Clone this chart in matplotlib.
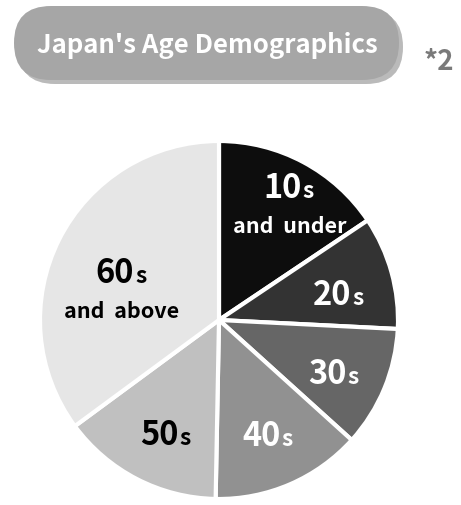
import numpy as np
import matplotlib
matplotlib.use("Agg")
import matplotlib.pyplot as plt
from matplotlib.patches import FancyBboxPatch

# data (share of population, %)
groups = ["10", "20", "30", "40", "50", "60"]
subtexts = ["and  under", "", "", "", "", "and  above"]
shares = [15.6, 10.2, 10.9, 13.6, 14.6, 35.1]
colors = ["#0d0d0d", "#333333", "#666666", "#919191", "#c0c0c0", "#e6e6e6"]
text_colors = ["white", "white", "white", "white", "black", "black"]
label_r = [0.75, 0.69, 0.71, 0.70, 0.70, 0.565]
label_ang_shift = [3.8, 3.3, 2.1, 0.2, -2.7, -10.4]   # degrees, clockwise

title = "Japan's Age Demographics"
note = "*2"

plt.rcParams['font.family'] = ['Noto Sans CJK JP', 'DejaVu Sans']

W, H = 461, 505
fig = plt.figure(figsize=(W / 100, H / 100), dpi=100)

# overlay axes in pixel coordinates for the title pill
bg = fig.add_axes([0, 0, 1, 1])
bg.set_xlim(0, W)
bg.set_ylim(H, 0)
bg.axis("off")

shadow = FancyBboxPatch((18, 10), 385, 74, boxstyle="round,pad=0,rounding_size=37",
                        fc="#8c8c8c", ec="none", alpha=0.6)
pill = FancyBboxPatch((14, 6), 385, 74, boxstyle="round,pad=0,rounding_size=37",
                      fc="#a6a6a6", ec="none")
bg.add_patch(shadow)
bg.add_patch(pill)
bg.text(207, 53, title, ha="center", va="baseline", color="white",
        fontsize=18.5, fontweight="bold")
bg.text(439, 70, note, ha="center", va="baseline", color="#7a7a7a",
        fontsize=20, fontweight="bold")

# pie
ax = fig.add_axes([40 / W, 1 - 499 / H, 358 / W, 358 / H])
wedges, _ = ax.pie(shares, colors=colors, startangle=90, counterclock=False,
                   wedgeprops=dict(edgecolor="white", linewidth=3))
ax.set_xlim(-1, 1)
ax.set_ylim(-1, 1)
ax.set_aspect("equal")

for w, g, sub, tc, r, sh in zip(wedges, groups, subtexts, text_colors, label_r, label_ang_shift):
    mid = np.deg2rad((w.theta1 + w.theta2) / 2 - sh)
    x, y = r * np.cos(mid), r * np.sin(mid)
    dy = 19 if sub else 0
    base = -11 + dy
    ax.annotate(g, (x, y), xytext=(12, base), textcoords="offset pixels",
                ha="right", va="baseline", color=tc, fontsize=23.5, fontweight="bold")
    ax.annotate("s", (x, y), xytext=(13, base), textcoords="offset pixels",
                ha="left", va="baseline", color=tc, fontsize=16.5, fontweight="bold")
    if sub:
        ax.annotate(sub, (x, y), xytext=(0, -27), textcoords="offset pixels",
                    ha="center", va="baseline", color=tc, fontsize=15.5, fontweight="bold")

fig.savefig("out.png", dpi=100)
